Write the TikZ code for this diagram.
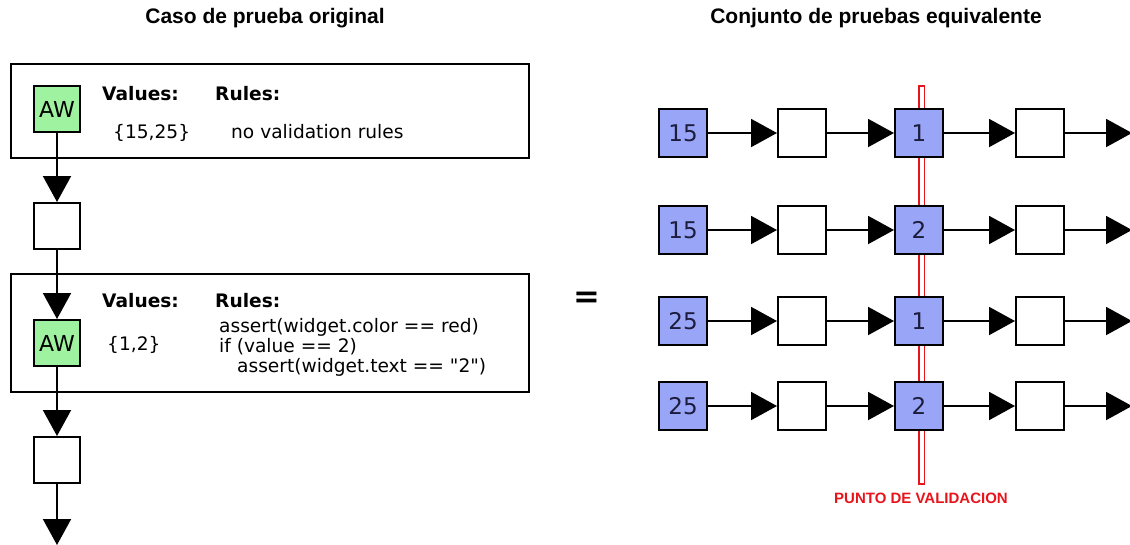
\documentclass[tikz,border=0pt]{standalone}
\usepackage{fontspec}
\setmainfont{DejaVu Sans}[Ligatures=TeXOff]
\newfontfamily\titlefont{Liberation Sans}
\usetikzlibrary{arrows.meta}

\definecolor{awgreen}{HTML}{9FF29F}
\definecolor{valblue}{HTML}{99A6F8}
\definecolor{valred}{HTML}{E8141C}
\definecolor{inkblue}{HTML}{1C1C3C}

\tikzset{
  stepbox/.style={draw=black, line width=2pt, minimum width=46pt, minimum height=46pt,
    inner sep=0pt, fill=white, font=\fontsize{22}{24}\selectfont},
  awbox/.style={stepbox, fill=awgreen},
  valbox/.style={stepbox, minimum width=48pt, minimum height=48pt, fill=valblue, text=inkblue,
    font=\fontsize{23}{24}\selectfont},
  plainbox/.style={stepbox, minimum width=48pt, minimum height=48pt},
  flow/.style={line width=2pt, -{Triangle[length=26pt,width=28pt]}},
  frame/.style={draw=black, line width=1.8pt, inner sep=0pt, anchor=north west},
  lbl/.style={anchor=base west, inner sep=0pt, font=\fontsize{18.6}{21}\selectfont},
  hdr/.style={lbl, font=\fontsize{18.6}{21}\selectfont\bfseries},
  title/.style={inner sep=0pt, font=\titlefont\bfseries\fontsize{21}{24}\selectfont},
}

\begin{document}
\begin{tikzpicture}[x=1pt, y=-1pt]
  \useasboundingbox[fill=white] (0,0) rectangle (1130,544);

  % headings
  \node[title] (t1) at (265,18) {Caso de prueba original};
  \node[title] (t2) at (876,18) {Conjunto de pruebas equivalente};

  % ---------- original test case ----------
  \node[frame, minimum width=518pt, minimum height=94pt] (f1) at (10,63) {};
  \node[frame, minimum width=518pt, minimum height=118pt] (f2) at (10,273) {};

  \node[awbox] (aw1) at (57,109) {AW};
  \node[stepbox] (s1) at (57,226) {};
  \node[awbox] (aw2) at (57,343) {AW};
  \node[stepbox] (s2) at (57,460) {};
  \coordinate (end) at (57,545);

  \draw[flow] (aw1) -- (s1);
  \draw[flow] (s1) -- (aw2);
  \draw[flow] (aw2) -- (s2);
  \draw[flow] (s2) -- (end);

  \node[hdr] (v1) at (102,100) {Values:};
  \node[hdr] (r1) at (215,100) {Rules:};
  \node[lbl] (vv1) at (113,138) {\{15,25\}};
  \node[lbl] (rr1) at (231,138) {no validation rules};

  \node[hdr] (v2) at (102,307) {Values:};
  \node[hdr] (r2) at (215,307) {Rules:};
  \node[lbl] (vv2) at (107,350) {\{1,2\}};
  \node[lbl] (rr2a) at (219,332) {assert(widget.color == red)};
  \node[lbl] (rr2b) at (219,352) {if (value == 2)};
  \node[lbl] (rr2c) at (237,372) {assert(widget.text == "2")};

  \node[inner sep=0pt, font=\fontsize{32}{32}\selectfont\bfseries] (eq) at (587,300) {=};

  % ---------- equivalent test set ----------
  \node[draw=valred, line width=1.5pt, fill=white, minimum width=5.5pt, minimum height=398pt,
        inner sep=0pt] (bar) at (921.5,285) {};
  \node[inner sep=0pt, text=valred, font=\titlefont\bfseries\fontsize{15}{18}\selectfont]
        (lab) at (921,498) {PUNTO DE VALIDACION};

  \foreach \r/\y/\a/\c in {1/133/15/1, 2/230/15/2, 3/321/25/1, 4/406/25/2} {
    \node[valbox] (a\r) at (683,\y) {\a};
    \node[plainbox] (b\r) at (802,\y) {};
    \node[valbox] (c\r) at (919,\y) {\c};
    \node[plainbox] (d\r) at (1040,\y) {};
    \coordinate (e\r) at (1132,\y);
    \draw[flow] (a\r) -- (b\r);
    \draw[flow] (b\r) -- (c\r);
    \draw[flow] (c\r) -- (d\r);
    \draw[flow] (d\r) -- (e\r);
  }
\end{tikzpicture}
\end{document}
